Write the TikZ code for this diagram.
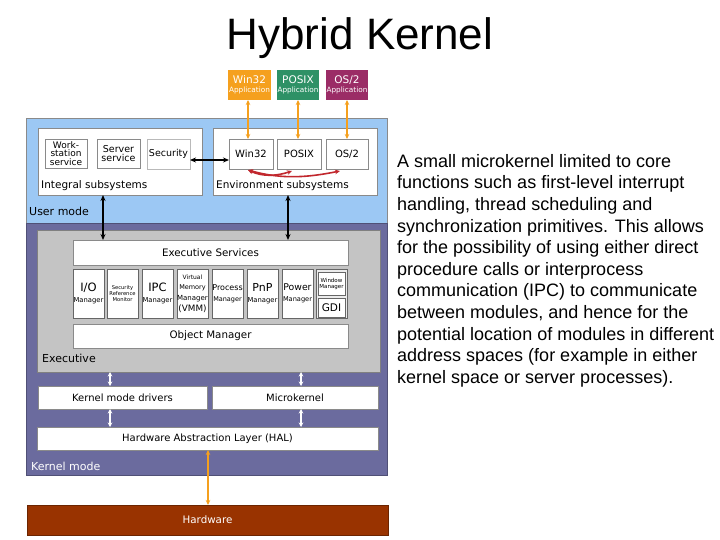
\documentclass[tikz,border=0pt]{standalone}
\usepackage{fontspec}
\setmainfont{DejaVu Sans}
\newfontfamily\arialf{Liberation Sans}
\usetikzlibrary{arrows.meta}
\definecolor{usr}{HTML}{9CC8F4}
\definecolor{krn}{HTML}{6B6B9E}
\definecolor{exe}{HTML}{C4C4C4}
\definecolor{hwc}{HTML}{993300}
\definecolor{org}{HTML}{F5A01E}
\definecolor{grn}{HTML}{2E9166}
\definecolor{ppl}{HTML}{9B2C66}
\definecolor{myred}{HTML}{C1272D}
\definecolor{bord}{HTML}{8A8A8A}
\newcommand{\fs}[1]{\fontsize{#1}{#1}\selectfont}
\begin{document}
\begin{tikzpicture}[x=1pt,y=-1pt,
  region/.style={draw=bord, line width=1pt, anchor=north west, inner sep=0pt, outer sep=0pt},
  wbox/.style={draw=bord, fill=white, line width=0.8pt, anchor=north west, inner sep=0pt, outer sep=0pt, align=center, font=\fs{10}},
  mbox/.style={draw=gray!80!black, fill=white, line width=0.9pt, anchor=north west, inner sep=0pt, outer sep=0pt, align=center, minimum width=31pt, minimum height=49pt},
  app/.style={anchor=north west, inner sep=0pt, outer sep=0pt, minimum height=30pt, text=white, align=center, font=\fs{10.5}},
  lbl/.style={anchor=base west, inner sep=0pt, font=\fs{10.5}},
  barr/.style={{Stealth[length=6pt,width=5pt]}-{Stealth[length=6pt,width=5pt]}, line width=1.3pt, draw=black},
  oarr/.style={{Stealth[length=5pt,width=4.5pt]}-{Stealth[length=5pt,width=4.5pt]}, line width=1.3pt, draw=org},
  warr/.style={{Stealth[length=4.5pt,width=4.5pt]}-{Stealth[length=4.5pt,width=4.5pt]}, line width=1.5pt, draw=white},
  rarr/.style={{Stealth[length=5pt,width=4.5pt]}-{Stealth[length=5pt,width=4.5pt]}, line width=1.6pt, draw=myred}
]
\useasboundingbox (0,0) rectangle (720,540);
\fill[white] (0,0) rectangle (720,540);

% title
\node[anchor=base, inner sep=0pt, font=\arialf\fontsize{44}{48}\selectfont] (title) at (360,50) {Hybrid Kernel};

% applications
\node[app, fill=org, minimum width=43pt] (w32app) at (228,70) {Win32\\[-2pt]{\fs{7.3}Application}};
\node[app, fill=grn, minimum width=42pt] (posixapp) at (277,70) {POSIX\\[-2pt]{\fs{7.3}Application}};
\node[app, fill=ppl, minimum width=42pt] (os2app) at (326,70) {OS/2\\[-2pt]{\fs{7.3}Application}};

% big regions
\node[region, fill=usr, minimum width=361pt, minimum height=105pt] (user) at (26,119) {};
\node[region, fill=krn, draw=krn!75!black, minimum width=361pt, minimum height=251pt] (kernel) at (26,224) {};
\node[region, fill=exe, draw=gray, minimum width=343pt, minimum height=141pt] (exec) at (37,231) {};
\node[lbl, font=\fs{11}] (usrlbl) at (29,215) {User mode};
\node[lbl, font=\fs{11}] (exelbl) at (42,362) {Executive};
\node[lbl, font=\fs{11}, text=white] (krnlbl) at (31,470) {Kernel mode};

% user-mode subsystems
\node[wbox, minimum width=164pt, minimum height=67pt] (integral) at (38,128) {};
\node[wbox, minimum width=164pt, minimum height=67pt] (env) at (213,128) {};
\node[lbl] (intlbl) at (41,189) {Integral subsystems};
\node[lbl] (envlbl) at (216,189) {Environment subsystems};

\node[wbox, minimum width=42pt, minimum height=29pt, font=\fontsize{9}{8.8}\selectfont] (wks) at (45,139) {Work-\\station\\service};
\node[wbox, minimum width=43pt, minimum height=29pt, font=\fontsize{9.5}{9.5}\selectfont] (srv) at (97,139) {Server\\service};
\node[wbox, draw=bord!60, minimum width=43pt, minimum height=30pt, font=\fs{9.5}] (sec) at (147,139) {Security};

\node[wbox, minimum width=44pt, minimum height=30pt] (ew32) at (229,139) {Win32};
\node[wbox, minimum width=44pt, minimum height=30pt] (eposix) at (277,139) {POSIX};
\node[wbox, minimum width=42pt, minimum height=30pt] (eos2) at (326,139) {OS/2};

% executive
\node[wbox, minimum width=275pt, minimum height=25pt, font=\fs{10.3}] (execsvc) at (73,240) {Executive Services};
\node[mbox] (io) at (73,269) {{\fs{11.5}I/O}\\[-1pt]{\fs{6.8}Manager}};
\node[mbox, font=\fontsize{5.2}{6}\selectfont] (srm) at (107,269) {Security\\Reference\\Monitor};
\node[mbox] (ipc) at (142,269) {{\fs{11.5}IPC}\\[-1pt]{\fs{6.8}Manager}};
\node[mbox] (vmm) at (177,269) {{\fs{6}Virtual}\\[-1.5pt]{\fs{6.5}Memory}\\[-1.5pt]{\fs{7}Manager}\\[-1pt]{\fs{8.8}(VMM)}};
\node[mbox] (proc) at (212,269) {{\fs{8}Process}\\[-1pt]{\fs{6.5}Manager}};
\node[mbox] (pnp) at (247,269) {{\fs{11}PnP}\\[-1pt]{\fs{6.8}Manager}};
\node[mbox] (pwr) at (282,269) {{\fs{9.3}Power}\\[-1pt]{\fs{6.6}Manager}};
\node[mbox, fill=gray!15] (wgrp) at (316,269) {};
\node[mbox, minimum width=27pt, minimum height=23pt, line width=0.7pt, font=\fontsize{5.5}{6}\selectfont] (wmgr) at (318,272) {Window\\Manager};
\node[mbox, minimum width=27pt, minimum height=19pt, line width=0.7pt, font=\fs{10.5}] (gdi) at (318,298) {GDI};
\node[wbox, minimum width=275pt, minimum height=24pt, font=\fs{10.3}] (objmgr) at (73,324) {Object Manager};

% kernel layers
\node[wbox, minimum width=169pt, minimum height=23pt] (kmd) at (38,386) {Kernel mode drivers};
\node[wbox, minimum width=166pt, minimum height=23pt] (mk) at (212,386) {Microkernel};
\node[wbox, minimum width=341pt, minimum height=23pt] (hal) at (37,427) {Hardware Abstraction Layer (HAL)};
\node[region, fill=hwc, draw=hwc!70!black, minimum width=361pt, minimum height=30pt, text=white, font=\fs{10.3}] (hw) at (27,505) {Hardware};

% connectors
\draw[oarr] ([xshift=-1.5pt]w32app.south) -- ([xshift=-1.5pt]w32app.south |- ew32.north);
\draw[oarr] (posixapp.south) -- (posixapp.south |- eposix.north);
\draw[oarr] (os2app.south) -- (os2app.south |- eos2.north);

\draw[barr] ([yshift=-6pt]sec.east) -- ([yshift=-6pt]sec.east -| ew32.west);
\draw[barr] ([xshift=65pt]integral.south west) -- ([xshift=30pt]execsvc.north west);
\draw[barr] ([xshift=75pt]env.south west) -- ([xshift=215pt]execsvc.north west);

\draw[rarr] ([shift={(-3,1)}]ew32.south) .. controls +(15,7) and +(-15,5) .. ([shift={(-7,2)}]eposix.south);
\draw[rarr] ([shift={(-3,1)}]ew32.south) .. controls +(35,10) and +(-30,6) .. ([shift={(-7,2)}]eos2.south);

\draw[warr] ([xshift=73pt]exec.south west) -- ([xshift=72pt]kmd.north west);
\draw[warr] ([xshift=72pt]kmd.south west) -- ([xshift=73pt]hal.north west);
\draw[warr] ([xshift=264pt]exec.south west) -- ([xshift=89pt]mk.north west);
\draw[warr] ([xshift=89pt]mk.south west) -- ([xshift=264pt]hal.north west);

\draw[oarr] ([xshift=0.5pt]hal.south) -- ([xshift=0.5pt]hal.south |- hw.north);

% description
\node[anchor=north west, inner sep=0pt, align=left, font=\arialf\fontsize{18}{21.6}\selectfont] (desc) at (397,154) {A small microkernel limited to core\\
functions such as first-level interrupt\\
handling, thread scheduling and\\
synchronization primitives. This allows\\
for the possibility of using either direct\\
procedure calls or interprocess\\
communication (IPC) to communicate\\
between modules, and hence for the\\
potential location of modules in different\\
address spaces (for example in either\\
kernel space or server processes).};
\end{tikzpicture}
\end{document}
